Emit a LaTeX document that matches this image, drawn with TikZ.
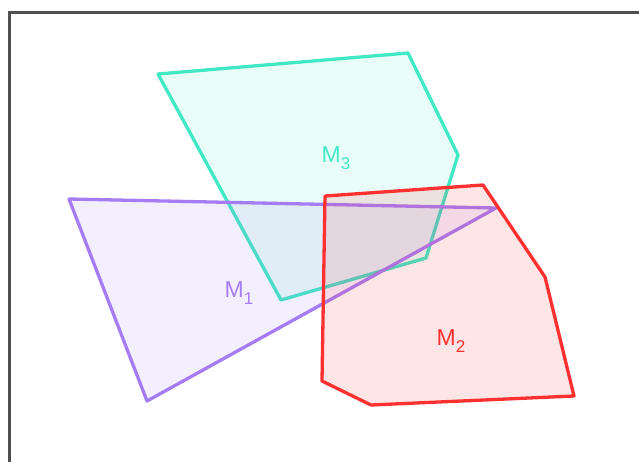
\documentclass[tikz,border=0pt]{standalone}
\usepackage{fontspec}
\setmainfont{Liberation Sans}
\begin{document}
\begin{tikzpicture}[x=1pt,y=-1pt,
  poly/.style={line width=3.3pt,line join=round,fill opacity=0.12},
  lbl/.style={font=\fontsize{23}{23}\selectfont,inner sep=0pt}]
\useasboundingbox (0,0) rectangle (639,461);
\definecolor{cm3}{RGB}{64,232,196}
\definecolor{cm1}{RGB}{166,124,245}
\definecolor{cm2}{RGB}{255,48,48}
\definecolor{frame}{RGB}{80,80,80}
% frame
\draw[frame,line width=3pt] (9,470) -- (9,12.5) -- (645,12.5);
% M3
\coordinate (a1) at (158,74);
\coordinate (a2) at (408,53);
\coordinate (a3) at (458,155);
\coordinate (a4) at (426,258);
\coordinate (a5) at (281,300);
\filldraw[poly,draw=cm3,fill=cm3] (a1) -- (a2) -- (a3) -- (a4) -- (a5) -- cycle;
% M1
\coordinate (b1) at (69,199);
\coordinate (b2) at (496,208);
\coordinate (b3) at (147,401);
\filldraw[poly,draw=cm1,fill=cm1] (b1) -- (b2) -- (b3) -- cycle;
% M2
\coordinate (c1) at (325,196);
\coordinate (c2) at (483,185);
\coordinate (c3) at (545,277);
\coordinate (c4) at (574,396);
\coordinate (c5) at (371,405);
\coordinate (c6) at (322,381);
\filldraw[poly,draw=cm2,fill=cm2] (c1) -- (c2) -- (c3) -- (c4) -- (c5) -- (c6) -- cycle;
% labels
\node[lbl,text=cm3] (l3) at (336,158) {M\raisebox{-7pt}{\fontsize{17}{17}\selectfont 3}};
\node[lbl,text=cm1] (l1) at (239,293) {M\raisebox{-7pt}{\fontsize{17}{17}\selectfont 1}};
\node[lbl,text=cm2] (l2) at (451,341) {M\raisebox{-7pt}{\fontsize{17}{17}\selectfont 2}};
\end{tikzpicture}
\end{document}
